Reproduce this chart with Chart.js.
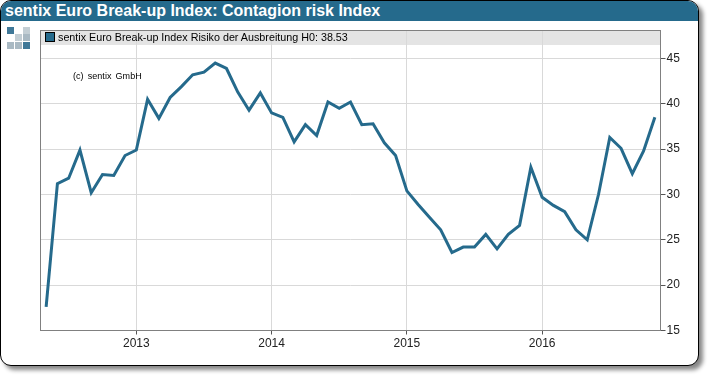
<!DOCTYPE html>
<html>
<head>
<meta charset="utf-8">
<script src="https://cdn.jsdelivr.net/npm/chart.js@4"></script>
<style>
    html, body { margin: 0; padding: 0; background: #fff; }
    body { width: 710px; height: 376px; position: relative; overflow: hidden; font-family: "Liberation Sans", Arial, sans-serif; }
    #panel { position: absolute; left: 0; top: 0; width: 697px; height: 364px; background: #fff; border: 1px solid #000; border-radius: 11px; box-shadow: 4px 4px 4px #888; overflow: hidden; }
    #head { height: 20px; background: #256a8c; color: #fff; font-weight: bold; font-size: 16px; line-height: 20px; padding-left: 4px; white-space: nowrap; }
    #logo div { position: absolute; width: 7px; height: 7px; }
    #chart { position: absolute; left: 0; top: 0; }
    #legend { position: absolute; left: 45px; top: 31px; font-size: 10.75px; line-height: 13px; color: #000; white-space: nowrap; }
    #legend i { display: inline-block; width: 8px; height: 8px; background: #256a8c; border: 1px solid #000; margin-right: 3px; vertical-align: -1px; }
    #copy { position: absolute; left: 73px; top: 71px; font-size: 9px; line-height: 11px; color: #000; white-space: nowrap; word-spacing: 1.5px; letter-spacing: 0.05px; }
</style>
</head>
<body>
<div id="panel">
    <div id="head">sentix Euro Break-up Index: Contagion risk Index</div>
</div>
<div id="logo">
    <div style="left:7px;top:27px;background:#3f7898"></div>
    <div style="left:23px;top:27px;background:#c3ced4"></div>
    <div style="left:15px;top:34px;background:#c3ced4"></div>
    <div style="left:23px;top:34px;background:#a9b9c3"></div>
    <div style="left:7px;top:42px;background:#a9b9c3"></div>
    <div style="left:15px;top:42px;background:#a9b9c3"></div>
    <div style="left:23px;top:42px;background:#3f7898"></div>
</div>
<canvas id="chart" width="710" height="376"></canvas>
<div id="legend"><i></i><span id="legendText"></span></div>
<div id="copy">(c) sentix GmbH</div>
<script>
const months = [
    '2012-05', '2012-06', '2012-07', '2012-08', '2012-09', '2012-10', '2012-11', '2012-12',
    '2013-01', '2013-02', '2013-03', '2013-04', '2013-05', '2013-06', '2013-07', '2013-08', '2013-09', '2013-10', '2013-11', '2013-12',
    '2014-01', '2014-02', '2014-03', '2014-04', '2014-05', '2014-06', '2014-07', '2014-08', '2014-09', '2014-10', '2014-11', '2014-12',
    '2015-01', '2015-02', '2015-03', '2015-04', '2015-05', '2015-06', '2015-07', '2015-08', '2015-09', '2015-10', '2015-11', '2015-12',
    '2016-01', '2016-02', '2016-03', '2016-04', '2016-05', '2016-06', '2016-07', '2016-08', '2016-09', '2016-10', '2016-11'
];
const riskValues = [
    17.6, 31.2, 31.8, 34.9, 30.2, 32.2, 32.1, 34.3,
    34.9, 40.5, 38.4, 40.7, 41.9, 43.2, 43.5, 44.5, 43.9, 41.3, 39.3, 41.2,
    39.0, 38.5, 35.8, 37.7, 36.5, 40.2, 39.5, 40.2, 37.7, 37.8, 35.7, 34.3,
    30.4, 28.9, 27.5, 26.1, 23.6, 24.2, 24.2, 25.6, 24.0, 25.6, 26.6, 33.0,
    29.7, 28.8, 28.1, 26.1, 25.0, 30.0, 36.3, 35.1, 32.3, 34.8, 38.53
];
const seriesName = 'sentix Euro Break-up Index Risiko der Ausbreitung H0: 38.53';
const yTicks = [15, 20, 25, 30, 35, 40, 45];

document.getElementById('legendText').textContent = seriesName;

// gray legend band and the frame round the plot
const plotFrame = {
    id: 'plotFrame',
    beforeDraw(chart) {
        const a = chart.chartArea, c = chart.ctx;
        c.fillStyle = '#e4e4e4';
        c.fillRect(a.left, a.top, a.width, 14.5);
    },
    afterDatasetsDraw(chart) {
        const a = chart.chartArea, c = chart.ctx;
        c.strokeStyle = '#808080';
        c.lineWidth = 1;
        c.strokeRect(a.left, a.top, a.width, a.height);
    }
};

new Chart(document.getElementById('chart').getContext('2d'), {
    type: 'line',
    data: {
        labels: months,
        datasets: [{
            data: riskValues,
            borderColor: '#256a8c',
            borderWidth: 3,
            pointRadius: 0,
            tension: 0,
            borderJoinStyle: 'miter'
        }]
    },
    options: {
        responsive: false,
        animation: false,
        layout: { padding: { left: 40.5, top: 30.5, right: 0, bottom: 0 } },
        plugins: { legend: { display: false }, tooltip: { enabled: false } },
        scales: {
            x: {
                offset: true,
                afterFit(s) { s.height = 45.5; },
                grid: { color: '#d9d9d9', offset: false, lineWidth: 1, tickLength: 4, tickColor: '#555' },
                border: { display: false },
                ticks: {
                    autoSkip: false,
                    maxRotation: 0,
                    padding: 2,
                    color: '#222',
                    font: { family: 'Liberation Sans', size: 12 },
                    callback(v) {
                        const m = months[v];
                        return m.endsWith('-01') ? m.slice(0, 4) : null;
                    }
                }
            },
            y: {
                position: 'right',
                min: 15,
                max: 48.09,
                afterFit(s) { s.width = 49.5; },
                afterBuildTicks(s) { s.ticks = yTicks.map(v => ({ value: v })); },
                grid: { color: '#d9d9d9', lineWidth: 1, tickLength: 5, tickColor: '#555' },
                border: { display: false },
                ticks: {
                    padding: 1,
                    color: '#222',
                    font: { family: 'Liberation Sans', size: 12 }
                }
            }
        }
    },
    plugins: [plotFrame]
});
</script>
</body>
</html>
